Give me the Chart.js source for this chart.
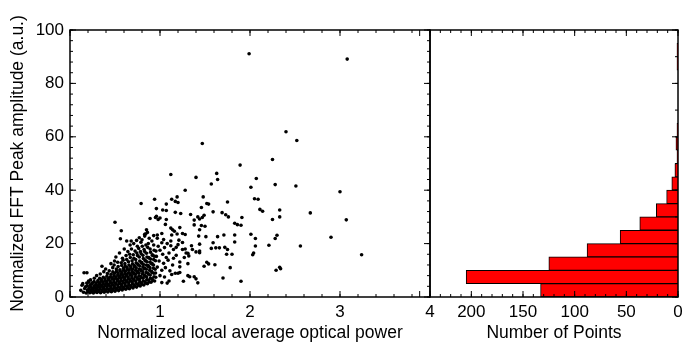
<!DOCTYPE html>
<html>
<head>
<meta charset="utf-8">
<script src="https://cdn.jsdelivr.net/npm/chart.js@4.4.0/dist/chart.umd.min.js"></script>
<style>
html, body { margin: 0; padding: 0; background: #fff; }
#wrap { position: relative; width: 692px; height: 345px; overflow: hidden; }
#scatter { position: absolute; left: 0; top: 0; }
#hist { position: absolute; left: 400px; top: 0; }
</style>
</head>
<body>
<div id="wrap">
  <canvas id="scatter" width="450" height="345"></canvas>
  <canvas id="hist" width="292" height="345"></canvas>
</div>
<script>
// scattered points outside the dense cluster: [power, fft amplitude]
const outerPts = [
  [1.99,91.1],[3.08,89.1],[1.47,57.5],[2.40,61.9],[2.52,58.6],[2.25,51.5],[1.89,49.4],
  [1.12,45.9],[1.40,44.8],[1.63,46.3],[1.64,44.0],[1.57,42.3],[2.07,44.4],[2.28,42.1],
  [2.01,41.1],[2.51,41.6],[1.28,40.0],[3.00,39.4],[2.05,36.8],[2.09,36.6],[2.11,32.8],
  [2.14,32.1],[2.33,32.6],[1.91,29.8],[2.33,30.0],[2.25,29.0],[2.67,31.5],[3.07,28.9],
  [1.90,26.9],[2.01,23.5],[2.06,21.9],[2.30,23.1],[2.28,21.9],[2.90,22.4],[2.06,19.1],
  [2.21,19.4],[2.56,19.1],[2.04,16.5],[2.03,15.8],[3.24,15.8],[2.33,11.1],[2.34,10.6],
  [2.29,10.0],[1.90,5.9]
];

// middle band, x 0.5 - 1.9
const midPts = [
  [1.48,37.5],[1.52,35.0],[1.75,35.6],[1.19,37.5],[1.13,36.6],[1.17,35.8],[1.20,35.4],
  [1.07,34.8],[0.96,33.1],[1.03,32.6],[1.07,32.4],[1.46,33.5],[1.54,34.8],[1.17,31.7],
  [1.23,31.3],[1.34,30.9],[1.38,28.8],[1.42,30.0],[1.44,29.2],[1.47,29.8],[1.49,30.6],
  [1.38,27.0],[1.46,26.8],[1.50,26.5],[1.44,25.2],[1.59,31.9],[1.69,31.6],[1.73,30.8],
  [1.76,30.0],[1.83,27.6],[1.86,27.1],[0.96,30.2],[1.00,29.6],[0.98,29.0],[1.07,29.0],
  [1.06,27.2],[1.12,25.8],[1.14,25.2],[1.16,24.6],[1.22,26.0],[1.25,23.8],[1.19,23.6],
  [1.13,23.2],[1.28,23.4],[0.97,23.2],[1.02,23.8],[1.04,21.5],[1.12,21.0],[1.21,21.3],
  [1.43,22.8],[1.51,22.6],[1.64,22.6],[1.71,23.2],[1.83,23.2],
  [0.79,35.0],[0.94,36.6],[0.50,28.0],[0.89,29.4],[0.95,29.8],[0.85,25.2],[0.86,24.2],
  [0.84,23.6],[0.83,22.8],[0.57,24.8],[0.56,21.8],[0.63,21.0],[0.68,21.0],[0.74,21.2],
  [0.77,22.2],[0.80,21.4],[0.83,23.5],[0.88,22.0],[0.93,23.0],[0.97,22.0],
  [1.02,20.3],[1.44,19.8],[1.59,20.3],[1.83,20.6],[1.57,18.2],[1.62,18.4],[1.66,18.4],
  [1.72,18.6],[1.75,17.8],[1.74,16.0],[1.80,16.0],[1.52,13.0],[1.54,12.4],[1.61,12.1],
  [1.49,11.5],[1.78,11.0],[1.31,12.5],[1.22,13.1],[1.22,11.3],[1.44,17.2],[1.31,16.4],
  [1.44,16.6],[1.17,8.9],[1.20,8.9],[1.22,9.2],[1.13,8.4],[1.31,8.0],[1.33,7.6],
  [1.38,7.6],[1.40,6.8],[1.26,5.9],[1.42,5.3],[1.70,7.1],[1.02,5.4],[1.08,5.2],[1.10,6.0],
  [0.98,19.0],[1.00,17.5],[1.05,18.5],[1.08,20.0],[1.12,19.2],[1.15,17.8],[1.20,19.6],
  [1.25,20.4],[1.03,16.0],[1.07,14.8],[1.10,16.5],[0.96,15.2],[0.99,13.5],[1.04,12.6],
  [1.09,13.8],[1.14,12.0],[0.97,11.2],[1.02,10.0],[1.06,11.0],[1.11,9.8],[0.95,9.0],
  [1.00,8.0],[1.05,7.5],[1.15,14.5],[1.18,15.6],[1.28,18.0],[1.35,19.2],
  [1.18,18.6],[1.25,17.8],[1.29,16.5],[1.36,17.8],[1.40,16.9],[1.27,14.8],[1.32,15.4]
];

// dense cluster, x 0.1 - 0.95
const corePts = [
  [0.120,2.5],[0.133,4.4],
  [0.150,1.8],[0.163,3.2],[0.142,5.0],[0.156,9.1],
  [0.180,1.5],[0.193,2.6],[0.172,3.8],[0.186,5.2],
  [0.200,2.0],[0.213,3.0],[0.192,4.2],[0.206,6.0],[0.188,9.1],
  [0.220,1.6],[0.233,2.5],[0.212,3.4],[0.226,4.6],[0.208,5.5],
  [0.240,1.9],[0.253,2.9],[0.232,3.8],[0.246,5.0],[0.228,6.4],
  [0.260,1.5],[0.273,2.3],[0.252,3.2],[0.266,4.1],[0.248,5.3],[0.270,7.0],
  [0.280,2.0],[0.293,2.8],[0.272,3.6],[0.286,4.5],[0.268,5.8],
  [0.300,1.7],[0.313,2.5],[0.292,3.3],[0.306,4.2],[0.288,5.0],[0.310,6.2],[0.296,8.0],
  [0.320,2.1],[0.333,3.0],[0.312,3.9],[0.326,4.8],[0.308,5.6],[0.330,7.0],
  [0.340,1.6],[0.353,2.6],[0.332,3.5],[0.346,4.4],[0.328,5.3],[0.350,6.5],[0.336,8.6],[0.355,11.5],
  [0.360,2.2],[0.373,3.1],[0.352,4.0],[0.366,5.0],[0.348,6.0],[0.370,7.4],
  [0.380,1.8],[0.393,2.7],[0.372,3.6],[0.386,4.6],[0.368,5.5],[0.390,6.8],[0.376,9.5],
  [0.400,2.3],[0.413,3.2],[0.392,4.2],[0.406,5.1],[0.388,6.2],[0.410,7.8],[0.396,10.5],
  [0.420,1.9],[0.433,2.8],[0.412,3.8],[0.426,4.7],[0.408,5.8],[0.430,7.0],[0.416,8.8],
  [0.440,2.4],[0.453,3.4],[0.432,4.4],[0.446,5.4],[0.428,6.5],[0.450,7.6],[0.436,9.8],[0.455,12.5],
  [0.460,2.0],[0.473,3.0],[0.452,4.0],[0.466,5.0],[0.448,6.0],[0.470,7.2],[0.456,8.5],[0.475,11.0],
  [0.480,2.6],[0.493,3.6],[0.472,4.6],[0.486,5.6],[0.468,6.8],[0.490,8.0],[0.476,9.4],[0.495,13.5],
  [0.500,2.2],[0.513,3.2],[0.492,4.2],[0.506,5.2],[0.488,6.4],[0.510,7.5],[0.496,8.9],[0.515,10.5],[0.490,12.0],
  [0.520,2.8],[0.533,3.8],[0.512,4.9],[0.526,6.0],[0.508,7.0],[0.530,8.2],[0.516,9.6],[0.535,11.4],[0.510,15.0],
  [0.540,2.4],[0.553,3.4],[0.532,4.5],[0.546,5.6],[0.528,6.6],[0.550,7.8],[0.536,9.0],[0.555,10.2],[0.530,13.0],
  [0.560,3.0],[0.573,4.0],[0.552,5.1],[0.566,6.2],[0.548,7.3],[0.570,8.5],[0.556,9.8],[0.575,11.8],[0.550,16.5],
  [0.580,2.6],[0.593,3.6],[0.572,4.7],[0.586,5.8],[0.568,6.9],[0.590,8.0],[0.576,9.2],[0.595,10.8],[0.570,12.8],[0.583,14.5],
  [0.600,3.2],[0.613,4.3],[0.592,5.4],[0.606,6.5],[0.588,7.6],[0.610,8.8],[0.596,10.0],[0.615,11.5],[0.590,13.8],[0.603,18.0],
  [0.620,2.9],[0.633,3.9],[0.612,5.0],[0.626,6.1],[0.608,7.2],[0.630,8.4],[0.616,9.6],[0.635,11.0],[0.610,12.5],[0.623,15.5],
  [0.640,3.5],[0.653,4.6],[0.632,5.7],[0.646,6.8],[0.628,7.9],[0.650,9.1],[0.636,10.4],[0.655,12.0],[0.630,14.0],[0.643,17.0],
  [0.660,3.1],[0.673,4.2],[0.652,5.3],[0.666,6.4],[0.648,7.5],[0.670,8.7],[0.656,10.0],[0.675,11.4],[0.650,13.2],[0.663,16.0],[0.668,19.5],
  [0.680,3.8],[0.693,4.9],[0.672,6.0],[0.686,7.1],[0.668,8.3],[0.690,9.5],[0.676,10.8],[0.695,12.4],[0.670,14.8],[0.683,18.0],
  [0.700,3.4],[0.713,4.5],[0.692,5.6],[0.706,6.7],[0.688,7.9],[0.710,9.1],[0.696,10.4],[0.715,11.8],[0.690,13.6],[0.703,15.8],[0.708,20.0],
  [0.720,4.0],[0.733,5.2],[0.712,6.3],[0.726,7.5],[0.708,8.7],[0.730,10.0],[0.716,11.3],[0.735,12.8],[0.710,14.5],[0.723,17.2],
  [0.740,3.7],[0.753,4.8],[0.732,6.0],[0.746,7.2],[0.728,8.4],[0.750,9.6],[0.736,10.9],[0.755,12.3],[0.730,14.0],[0.743,16.5],[0.748,19.0],
  [0.760,4.4],[0.773,5.5],[0.752,6.7],[0.766,7.9],[0.748,9.2],[0.770,10.5],[0.756,12.0],[0.775,13.5],[0.750,15.5],[0.763,18.2],
  [0.780,4.1],[0.793,5.3],[0.772,6.5],[0.786,7.7],[0.768,9.0],[0.790,10.2],[0.776,11.6],[0.795,13.0],[0.770,15.0],[0.783,17.0],[0.788,20.5],
  [0.800,4.8],[0.813,6.0],[0.792,7.3],[0.806,8.6],[0.788,9.9],[0.810,11.2],[0.796,12.7],[0.815,14.4],[0.790,16.2],[0.803,19.0],
  [0.820,4.5],[0.833,5.7],[0.812,7.0],[0.826,8.2],[0.808,9.5],[0.830,10.8],[0.816,12.2],[0.835,13.8],[0.810,15.6],[0.823,17.8],
  [0.840,5.2],[0.853,6.5],[0.832,7.8],[0.846,9.2],[0.828,10.6],[0.850,12.0],[0.836,13.5],[0.855,15.0],[0.830,17.0],[0.843,19.5],
  [0.860,5.0],[0.873,6.3],[0.852,7.6],[0.866,9.0],[0.848,10.4],[0.870,11.8],[0.856,13.2],[0.875,14.6],[0.850,16.4],[0.863,18.6],
  [0.880,5.6],[0.893,7.0],[0.872,8.5],[0.886,10.0],[0.868,11.4],[0.890,13.0],[0.876,14.8],[0.895,16.8],[0.870,20.0],
  [0.900,5.5],[0.913,6.8],[0.892,8.2],[0.906,9.6],[0.888,11.0],[0.910,12.6],[0.896,14.2],[0.915,15.8],[0.890,18.0],
  [0.920,6.2],[0.933,7.6],[0.912,9.2],[0.926,10.8],[0.908,12.4],[0.930,14.0],[0.916,15.6],[0.935,17.5],[0.910,21.0],
  [0.940,6.0],[0.953,7.4],[0.932,8.9],[0.946,10.4],[0.928,12.0],[0.950,13.6],[0.936,15.3],[0.955,17.2],[0.930,19.5]
];

// histogram of the amplitudes, 5-unit bins
const binStart = [0,5,10,15,20,25,30,35,40,45,50,55,60,65,70,75,80,85,90,95];
const binCount = [133,205,125,88,56,37,21,11,6,3,1,2,1,0,0,0,0,1,1,0];

const powerTicks = [0,1,2,3,4];
const ampTicks = [0,20,40,60,80,100];
const countTicks = [0,50,100,150,200];

Chart.defaults.font.family = '"Liberation Sans", Arial, sans-serif';
Chart.defaults.font.size = 17;
Chart.defaults.color = '#000';

const titleFont = { size: 17.5 };

const scatterData = outerPts.concat(midPts, corePts).map(p => ({x: p[0], y: p[1]}));

// frame plus inward ticks on all sides
const frameTicks = {
    id: 'frameTicks',
    afterDatasetsDraw(chart, args, o) {
        const {ctx, chartArea: a, scales} = chart;
        const xs = scales.x, ys = scales.y;
        ctx.save();
        ctx.strokeStyle = '#000';
        ctx.lineWidth = 1;
        const each = (scale, step, fn) => {
            const n = Math.round((scale.max - scale.min) / step);
            for (let i = 0; i <= n; i++) fn(scale.getPixelForValue(scale.min + i * step));
        };
        ctx.beginPath();
        [[o.xMinor, 3], [o.xMajor, 6]].forEach(([step, len]) => each(xs, step, px => {
            ctx.moveTo(px, a.bottom); ctx.lineTo(px, a.bottom - len);
            ctx.moveTo(px, a.top); ctx.lineTo(px, a.top + len);
        }));
        [[o.yMinor, 3], [o.yMajor, 6]].forEach(([step, len]) => each(ys, step, py => {
            if (o.left) { ctx.moveTo(a.left, py); ctx.lineTo(a.left + len, py); }
        }));
        [[o.yRightMinor, 3], [o.yMajor, 6]].forEach(([step, len]) => each(ys, step, py => {
            ctx.moveTo(a.right, py); ctx.lineTo(a.right - len, py);
        }));
        ctx.stroke();
        ctx.lineWidth = 1.5;
        ctx.strokeRect(a.left, a.top, a.width, a.height);
        ctx.restore();
    }
};

new Chart(document.getElementById('scatter'), {
    type: 'scatter',
    data: {
        datasets: [{
            data: scatterData,
            backgroundColor: '#000',
            borderWidth: 0,
            pointRadius: 1.8,
            pointHoverRadius: 1.8
        }]
    },
    options: {
        responsive: false,
        animation: false,
        events: [],
        layout: { autoPadding: false, padding: { left: 0, top: 30, right: 20, bottom: 0 } },
        plugins: {
            legend: { display: false },
            tooltip: { enabled: false },
            frameTicks: { xMajor: 1, xMinor: 0.2, yMajor: 20, yMinor: 4, yRightMinor: 4, left: true }
        },
        scales: {
            x: {
                type: 'linear', min: 0, max: 4,
                afterBuildTicks: s => { s.ticks = powerTicks.map(v => ({value: v})); },
                afterFit: s => { s.height = 48; },
                grid: { display: false, drawTicks: false },
                border: { display: false },
                ticks: { padding: 5, maxRotation: 0 },
                title: { display: true, text: 'Normalized local average optical power', font: titleFont, padding: { top: 0, bottom: 1 } }
            },
            y: {
                type: 'linear', min: 0, max: 100,
                afterBuildTicks: s => { s.ticks = ampTicks.map(v => ({value: v})); },
                afterFit: s => { s.width = 70; },
                grid: { display: false, drawTicks: false },
                border: { display: false },
                ticks: { padding: 6 },
                title: { display: true, text: 'Normalized FFT Peak amplitude (a.u.)', font: titleFont, padding: { top: 8, bottom: 0 } }
            }
        }
    },
    plugins: [frameTicks]
});

new Chart(document.getElementById('hist'), {
    type: 'bar',
    data: {
        datasets: [{
            data: binStart.map((b, i) => ({x: binCount[i], y: b + 2.5})),
            backgroundColor: '#ff0000',
            borderColor: '#000',
            borderWidth: 1,
            barPercentage: 1,
            categoryPercentage: 1
        }]
    },
    options: {
        indexAxis: 'y',
        responsive: false,
        animation: false,
        events: [],
        layout: { autoPadding: false, padding: { left: 30, top: 30, right: 14, bottom: 0 } },
        plugins: {
            legend: { display: false },
            tooltip: { enabled: false },
            frameTicks: { xMajor: 50, xMinor: 10, yMajor: 20, yMinor: 4, yRightMinor: 10, left: false }
        },
        scales: {
            x: {
                type: 'linear', min: 0, max: 240, reverse: true,
                afterBuildTicks: s => { s.ticks = countTicks.map(v => ({value: v})); },
                afterFit: s => { s.height = 48; },
                grid: { display: false, drawTicks: false },
                border: { display: false },
                ticks: { padding: 5, maxRotation: 0 },
                title: { display: true, text: 'Number of Points', font: titleFont, padding: { top: 0, bottom: 1 } }
            },
            y: {
                type: 'linear', min: 0, max: 100, offset: false,
                display: false,
                grid: { display: false, offset: false }
            }
        }
    },
    plugins: [frameTicks]
});
</script>
</body>
</html>
